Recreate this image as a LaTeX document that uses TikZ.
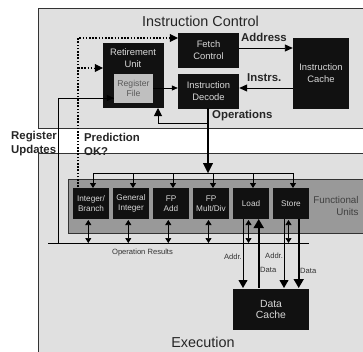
\documentclass[tikz,border=0pt]{standalone}
\usepackage{fontspec}
\setmainfont{Liberation Sans}
\usetikzlibrary{arrows.meta}
\definecolor{panelgray}{HTML}{E0E0E0}
\definecolor{fugray}{HTML}{999999}
\definecolor{boxblack}{HTML}{111111}
\definecolor{linedark}{HTML}{333333}
\definecolor{boxtext}{HTML}{D8D8D8}
\tikzset{
  x=1pt,y=-1pt,
  panel/.style={draw=linedark,line width=0.8pt,fill=panelgray},
  unit/.style={fill=boxblack,text=boxtext,inner sep=0pt,align=center,font=\fontsize{9.4}{12}\selectfont},
  smallunit/.style={unit,font=\fontsize{8.2}{10.2}\selectfont},
  lbl/.style={inner sep=0pt,font=\bfseries\fontsize{11.4}{14}\selectfont,text=black!85,align=left},
  tiny/.style={inner sep=0pt,font=\fontsize{7.6}{9}\selectfont,text=black!80},
  conn/.style={draw=black,line width=0.9pt,-{Triangle[length=8pt,width=7pt]}},
  thick conn/.style={draw=black,line width=1.7pt,-{Triangle[length=9pt,width=10pt]}},
  dbl/.style={draw=black,line width=0.7pt,{Triangle[length=5pt,width=6pt]}-{Triangle[length=5pt,width=6pt]}},
  dotconn/.style={draw=black,line width=1.6pt,dash pattern=on 1.6pt off 1.6pt},
  plain/.style={draw=black,line width=0.8pt},
}
\begin{document}
\begin{tikzpicture}
\useasboundingbox (0,0) rectangle (363,351);
\fill[white] (0,0) rectangle (363,351);
% panels
\path[panel] (38,8) rectangle (370,128);
\path[panel] (38,153) rectangle (370,360);
\path[draw=none,fill=fugray] (68,179) rectangle (370,233);
\draw[linedark,line width=0.6pt] (68,233) -- (68,179) -- (370,179);
\draw[linedark,line width=0.4pt] (68,233) -- (370,233);
% titles
\node[inner sep=0pt,font=\fontsize{14.4}{16}\selectfont,text=black!85] (title) at (200.5,21) {Instruction Control};
\node[inner sep=0pt,font=\fontsize{14.4}{16}\selectfont,text=black!85] (exec) at (203,342) {Execution};
% control boxes
\node[unit,minimum width=61pt,minimum height=35pt] (fetch) at (208.5,50.5) {Fetch\\Control};
\node[unit,minimum width=61pt,minimum height=35pt] (decode) at (208.5,91.5) {Instruction\\Decode};
\node[unit,minimum width=56pt,minimum height=71pt] (icache) at (321,73) {Instruction\\Cache};
\node[fill=boxblack,minimum width=61pt,minimum height=65pt,inner sep=0pt] (retire) at (133.5,75.5) {};
\node[unit,fill=none,anchor=center] (retirelabel) at (133,58.5) {Retirement\\Unit};
\node[smallunit,fill=black!25,text=black!65,minimum width=39pt,minimum height=29pt,font=\fontsize{8.6}{10.5}\selectfont] (regfile) at (133.5,88.5) {Register\\File};
% functional units
\node[smallunit,minimum width=36pt,minimum height=31pt] (int) at (91,203.5) {Integer/\\Branch};
\node[smallunit,minimum width=36pt,minimum height=31pt] (gen) at (131,203.5) {General\\Integer};
\node[smallunit,minimum width=36pt,minimum height=31pt] (fpadd) at (171,203.5) {FP\\Add};
\node[smallunit,minimum width=36pt,minimum height=31pt] (fpmul) at (211,203.5) {FP\\Mult/Div};
\node[smallunit,minimum width=36pt,minimum height=31pt] (load) at (251,203.5) {Load};
\node[smallunit,minimum width=36pt,minimum height=31pt] (store) at (291,203.5) {Store};
\node[unit,minimum width=76pt,minimum height=41pt,font=\fontsize{10.4}{11}\selectfont] (dcache) at (271,309) {Data\\Cache};
\node[inner sep=0pt,align=right,font=\fontsize{9.8}{12}\selectfont,text=black!75] (fu) at (336,206) {Functional\\Units};
% coordinates
\coordinate (busL) at (93,173);
\coordinate (busR) at (293,173);
\coordinate (resL) at (48,243);
\coordinate (resR) at (309,243);
\coordinate (dotTop) at (78,38);
\coordinate (dotBot) at (78,187);
\coordinate (dotMid) at (78,68);
\coordinate (updCorner) at (58,98);
\coordinate (updBot) at (58,243);
\coordinate (opsCorner) at (158,123);
% connectors
\draw[conn] (fetch.east |- 0,48) -- (icache.west |- 0,48);
\draw[conn] (icache.west |- 0,88) -- (decode.east |- 0,88);
\draw[conn,line width=0.7pt,-{Triangle[length=6pt,width=5pt]}] (regfile.east |- 0,88) -- (decode.west |- 0,88);
\draw[dotconn] (dotBot) -- (dotTop) -- (170,38);
\draw[-{Triangle[length=8pt,width=8pt]},black] (170,38) -- (fetch.west |- 0,38);
\draw[dotconn] (dotMid) -- (94,68);
\draw[-{Triangle[length=8pt,width=8pt]},black] (94,68) -- (retire.west |- 0,68);
\draw[plain] (updBot) -- (updCorner) -- (regfile.west |- 0,98);
\draw[-{Triangle[length=7pt,width=6pt]},black] (108,98) -- (regfile.west |- 0,98);
\draw[draw=black,line width=1pt,-{Triangle[length=8pt,width=8pt]}] (208,123) -- (opsCorner) -- (158,108);
\draw[draw=black,line width=1.6pt] (208,108) -- (208,165);
\draw[-{Triangle[length=10pt,width=10pt]},black] (208,163) -- (208,173);
% bus
\draw[plain] (busL) -- (busR);
\foreach \x/\n in {93/int,133/gen,173/fpadd,213/fpmul,253/load,293/store}{
  \draw[draw=black,line width=0.8pt,-{Triangle[length=5pt,width=6pt]}] (\x,173) -- (\x,188);
}
% results
\draw[plain] (resL) -- (resR);
\foreach \x in {88.3,128.3,168.3,208.5,248.5,288.5}{
  \draw[dbl] (\x,220) -- (\x,243);
}
% data cache
\draw[conn,line width=0.9pt,-{Triangle[length=8pt,width=9pt]}] (243,219) -- (243,288);
\draw[conn,line width=0.9pt,-{Triangle[length=8pt,width=9pt]}] (284,219) -- (284,288);
\draw[thick conn] (258.7,288) -- (258.7,219);
\draw[thick conn] (298.7,219) -- (298.7,288);
% labels
\node[lbl,anchor=west] (laddr) at (241,37) {Address};
\node[lbl,anchor=west] (linstr) at (247,78) {Instrs.};
\node[lbl,anchor=west] (lops) at (212,116) {Operations};
\node[lbl] (lreg) at (34,143.5) {Register\\Updates};
\node[lbl] (lpred) at (112,144) {Prediction\\OK?};
\node[tiny] (lres) at (142.5,252.5) {Operation Results};
\node[tiny,anchor=east] (a1) at (242,257) {Addr.};
\node[tiny,anchor=west] (d1) at (260,270) {Data};
\node[tiny,anchor=west] (a2) at (265,256) {Addr.};
\node[tiny,anchor=west] (d2) at (300,271) {Data};
\end{tikzpicture}
\end{document}
